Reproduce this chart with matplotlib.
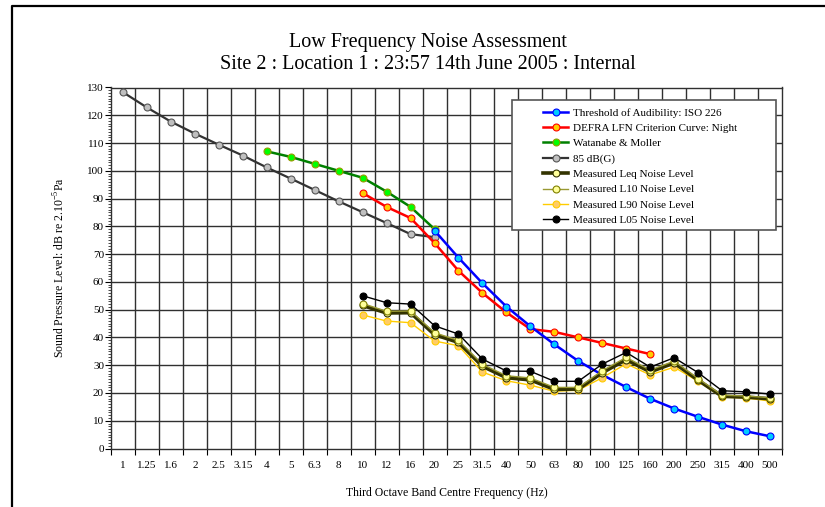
import matplotlib
matplotlib.use("Agg")
import matplotlib.pyplot as plt
from matplotlib.patches import Rectangle
from matplotlib.lines import Line2D
import numpy as np

plt.rcParams['font.family'] = ['Liberation Serif', 'DejaVu Serif']
plt.rcParams['mathtext.fontset'] = 'custom'
plt.rcParams['mathtext.rm'] = 'Liberation Serif'

freqs = ["1", "1.25", "1.6", "2", "2.5", "3.15", "4", "5", "6.3", "8", "10", "12", "16",
         "20", "25", "31.5", "40", "50", "63", "80", "100", "125", "160", "200", "250",
         "315", "400", "500"]

# Threshold of Audibility ISO 226 (20 Hz .. 500 Hz)
iso_freqs = ["20", "25", "31.5", "40", "50", "63", "80", "100", "125", "160", "200", "250", "315", "400", "500"]
iso_vals = [78.5, 68.7, 59.5, 51.1, 44.0, 37.5, 31.5, 26.5, 22.1, 17.9, 14.4, 11.4, 8.6, 6.2, 4.4]

# DEFRA LFN criterion curve (10 .. 160 Hz)
defra_freqs = ["10", "12", "16", "20", "25", "31.5", "40", "50", "63", "80", "100", "125", "160"]
defra_vals = [92, 87, 83, 74, 64, 56, 49, 43, 42, 40, 38, 36, 34]

# Watanabe & Moller (4 .. 20 Hz)
wm_freqs = ["4", "5", "6.3", "8", "10", "12", "16", "20"]
wm_vals = [107, 105, 102.5, 100, 97.5, 92.5, 87, 79]

# 85 dB(G) (1 .. 20 Hz)
g85_freqs = ["1", "1.25", "1.6", "2", "2.5", "3.15", "4", "5", "6.3", "8", "10", "12", "16", "20"]
g85_vals = [128.3, 122.8, 117.7, 113.4, 109.4, 105.5, 101.2, 97.2, 93.1, 89.0, 85.1, 81.2, 77.2, 76.1]

# Measured levels (10 .. 500 Hz)
meas_freqs = ["10", "12", "16", "20", "25", "31.5", "40", "50", "63", "80", "100", "125", "160",
              "200", "250", "315", "400", "500"]
leq_vals = [51.5, 48.8, 48.9, 41.0, 38.2, 29.6, 25.5, 24.7, 21.3, 21.4, 27.3, 32.0, 27.6,
            30.8, 24.6, 18.8, 18.5, 17.9]
l10_vals = [52.2, 49.4, 49.5, 41.7, 38.9, 30.3, 26.2, 25.4, 22.0, 22.0, 28.0, 32.8, 28.2,
            31.5, 25.2, 19.2, 18.9, 18.3]
l90_vals = [48.1, 45.9, 45.3, 38.7, 37.0, 27.5, 24.4, 22.8, 20.6, 21.0, 25.5, 30.5, 26.5,
            29.3, 24.2, 18.5, 18.2, 17.1]
l05_vals = [55.0, 52.5, 52.0, 44.2, 41.2, 32.2, 27.9, 27.8, 24.2, 24.2, 30.4, 34.6, 29.3,
            32.7, 27.3, 20.8, 20.4, 19.6]

title1 = "Low Frequency Noise Assessment"
title2 = "Site 2 : Location 1 : 23:57 14th June 2005 : Internal"

W, H = 825, 507
fig = plt.figure(figsize=(W / 100, H / 100), dpi=100)
ax = fig.add_axes([111 / W, 1 - 448.5 / H, (782 - 111) / W, (448.5 - 87.5) / H])

pos = {f: i for i, f in enumerate(freqs)}
def xs(fl):
    return [pos[f] for f in fl]

ms = 5
ax.plot(xs(g85_freqs), g85_vals, color='#333333', lw=1.6, marker='o', ms=ms,
        mfc='#C0C0C0', mec='#555555', mew=0.8, label='85 dB(G)', zorder=3)
ax.plot(xs(wm_freqs), wm_vals, color='#008000', lw=1.8, marker='o', ms=ms,
        mfc='#00FF00', mec='#999900', mew=0.8, label='Watanabe & Moller', zorder=3)
ax.plot(xs(defra_freqs), defra_vals, color='#FF0000', lw=1.8, marker='o', ms=ms,
        mfc='#FFCC00', mec='#FF0000', mew=0.8, label='DEFRA LFN Criterion Curve: Night', zorder=3)
ax.plot(xs(iso_freqs), iso_vals, color='#0000FF', lw=1.8, marker='o', ms=ms,
        mfc='#00CCFF', mec='#0000FF', mew=0.8, label='Threshold of Audibility: ISO 226', zorder=3)
ax.plot(xs(meas_freqs), l90_vals, color='#FFCC00', lw=1.0, marker='o', ms=ms,
        mfc='#FFCC66', mec='#FFCC00', mew=0.8, label='Measured L90 Noise Level', zorder=3)
ax.plot(xs(meas_freqs), leq_vals, color='#333300', lw=2.6, marker='o', ms=ms,
        mfc='#FFFF99', mec='#333300', mew=0.8, label='Measured Leq Noise Level', zorder=3)
ax.plot(xs(meas_freqs), l10_vals, color='#999933', lw=1.0, marker='o', ms=ms,
        mfc='#FFFF99', mec='#808000', mew=0.8, label='Measured L10 Noise Level', zorder=3)
ax.plot(xs(meas_freqs), l05_vals, color='#000000', lw=1.0, marker='o', ms=ms,
        mfc='#000000', mec='#000000', mew=0.8, label='Measured L05 Noise Level', zorder=3)

ax.set_xlim(-0.5, len(freqs) - 0.5)
ax.set_ylim(0, 130)
ax.set_xticks(range(len(freqs)))
ax.set_xticklabels(freqs, fontsize=8)
ax.set_xticks(np.arange(-0.5, len(freqs), 1.0), minor=True)
ax.tick_params(axis='x', which='major', length=0, pad=9)
ax.tick_params(axis='x', which='minor', length=4, direction='out', width=0.8)
ax.set_yticks(np.arange(0, 131, 10))
ax.set_yticks(np.arange(0, 131, 1), minor=True)
ax.tick_params(axis='y', which='major', length=4, direction='out', width=0.8, labelsize=8, pad=1)
ax.tick_params(axis='y', which='minor', length=2, direction='out', width=0.5)

for v in np.arange(10, 130, 10):
    ax.axhline(v, color='#303030', lw=1.0, zorder=1)
for v in np.arange(0.5, len(freqs) - 1, 1.0):
    ax.axvline(v, color='#303030', lw=1.0, zorder=1)
for s in ax.spines.values():
    s.set_color('#303030')
    s.set_linewidth(1.0)

ax.set_xlabel('Third Octave Band Centre Frequency (Hz)', fontsize=8.5, labelpad=12)
ax.set_ylabel('Sound Pressure Level: dB re 2.10$^{-5}$Pa', fontsize=8.5, labelpad=14)

fig.text(428 / W, 1 - 42 / H, title1, ha='center', va='center', fontsize=14.5)
fig.text(428 / W, 1 - 64.5 / H, title2, ha='center', va='center', fontsize=14.5)

# legend box
box = Rectangle((512 / W, 1 - 230 / H), (776 - 512) / W, (230 - 100) / H,
                transform=fig.transFigure, facecolor='white', edgecolor='#555555',
                lw=1.2, zorder=5)
ax.add_patch(box)
box.set_clip_on(False)

order = ['Threshold of Audibility: ISO 226', 'DEFRA LFN Criterion Curve: Night',
         'Watanabe & Moller', '85 dB(G)', 'Measured Leq Noise Level',
         'Measured L10 Noise Level', 'Measured L90 Noise Level', 'Measured L05 Noise Level']
hmap = {l.get_label(): l for l in ax.get_lines() if not l.get_label().startswith('_')}
handles = [hmap[o] for o in order]
leg = ax.legend(handles, order, loc='upper left', bbox_to_anchor=(535 / W, 1 - 100 / H),
                bbox_transform=fig.transFigure, frameon=False, fontsize=8,
                handlelength=2.3, handletextpad=0.4, labelspacing=0.5, borderpad=0.2)
leg.set_zorder(6)

# figure border (top and left)
fig.add_artist(Line2D([12 / W, 12 / W, 1.0], [0.0, 1 - 6 / H, 1 - 6 / H],
                      transform=fig.transFigure, color='black', lw=1.6))

fig.savefig('out.png', dpi=100)
